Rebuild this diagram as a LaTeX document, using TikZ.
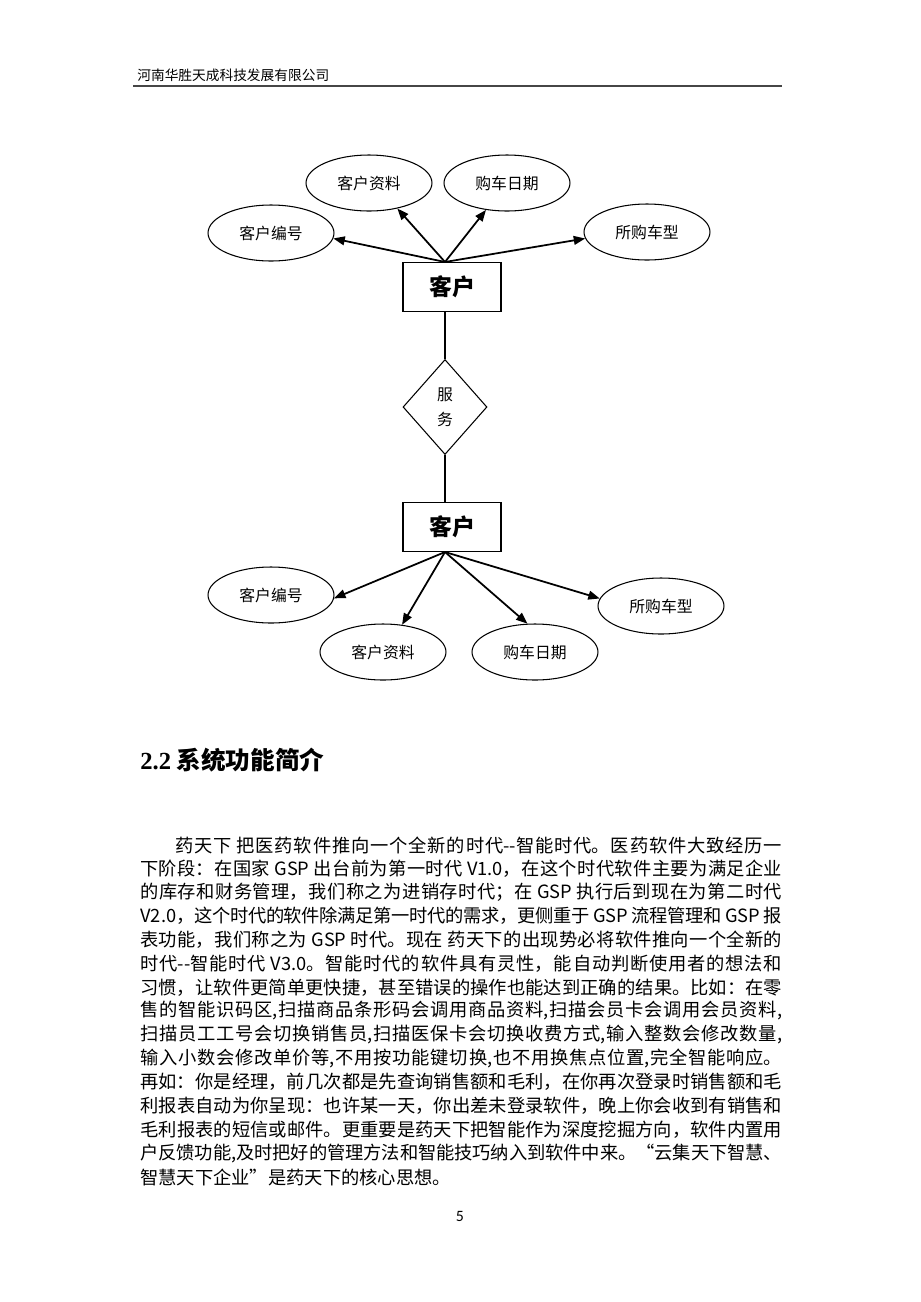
\documentclass[tikz,border=0pt]{standalone}
\usepackage{fontspec}
\setmainfont{Noto Sans CJK SC}
\newfontfamily\serifnum{Liberation Serif}
\newfontfamily\pagefont{Carlito}
\usetikzlibrary{shapes.geometric}
\usetikzlibrary{arrows.meta}
\usepackage{color}
\definecolor{hdgray}{RGB}{70,70,70}
\XeTeXlinebreaklocale "zh"
\XeTeXlinebreakskip=0pt plus 1.5pt minus 0.4pt
\newlength\linew
\setlength\linew{12.84cm}
\newcommand\bodyline[2][\linew]{\parbox{#1}{\parfillskip=0pt\tolerance=10000
  \XeTeXlinebreakpenalty=10000 #2}}

\begin{document}
\begin{tikzpicture}[x=0.02cm, y=-0.02cm,
  attr/.style={ellipse, draw, line width=0.6pt, minimum width=2.52cm,
    minimum height=1.12cm, inner sep=0pt, font=\fontsize{9}{11}\selectfont},
  entity/.style={rectangle, draw, line width=0.6pt, minimum width=1.96cm,
    minimum height=0.98cm, font=\fontsize{13}{15}\selectfont\bfseries},
  rel/.style={diamond, draw, line width=0.6pt, minimum width=1.68cm,
    minimum height=1.9cm, inner sep=0pt, align=center,
    font=\fontsize{9}{14}\selectfont},
  link/.style={line width=1pt, -{Triangle[length=6.5pt,width=5pt]}},
  body/.style={anchor=west, inner sep=0pt, font=\fontsize{10.4}{12}\selectfont}]
  \fill[white] (0,0) rectangle (920,1302);
  \useasboundingbox (0,0) rectangle (920,1302);

  % page head
  \node[anchor=west, inner sep=0pt, font=\fontsize{7.8}{9}\selectfont] (head) %
    at (137,75) {河南华胜天成科技发展有限公司};
  \draw[hdgray, line width=1.2pt] (133,86) -- (782,86);

  % upper entity
  \node[entity] (custA) at (452,287) {客户};
  \node[attr] (noA) at (271,233) {客户编号};
  \node[attr] (infoA) at (369,183) {客户资料};
  \node[attr] (dateA) at (507,183) {购车日期};
  \node[attr] (typeA) at (647,232) {所购车型};

  \node[rel] (serve) at (445,407) {服\\务};

  % lower entity
  \node[entity] (custB) at (452,527) {客户};
  \node[attr] (noB) at (271,595) {客户编号};
  \node[attr] (infoB) at (383,652) {客户资料};
  \node[attr] (dateB) at (535,652) {购车日期};
  \node[attr] (typeB) at (661,606) {所购车型};

  \coordinate (hubA) at (custA.north -| serve.north);
  \coordinate (hubB) at (custB.south -| serve.south);
  \draw[link] (hubA) -- (noA.-5);
  \draw[link] (hubA) -- (infoA.-42);
  \draw[link] (hubA) -- (dateA.-128);
  \draw[link] (hubA) -- (typeA.-174);
  \draw[line width=0.6pt] (custA.south -| serve.north) -- (serve.north);
  \draw[line width=0.6pt] (serve.south) -- (custB.north -| serve.south);
  \draw[link] (hubB) -- (noB.-3);
  \draw[link] (hubB) -- (infoB.55);
  \draw[link] (hubB) -- (dateB.105);
  \draw[link] (hubB) -- (typeB.173);

  % section
  \node[anchor=west, inner sep=0pt, font=\fontsize{14}{16}\selectfont\bfseries] %
    (sec) at (140,760) {{\serifnum 2.2} 系统功能简介};

  \node[body] (l1) at (175,845) {\bodyline[12.14cm]{药天下 把医药软件推向一个全新的时代-{}-智能时代。医药软件大致经历一}};
  \node[body] (l2) at (140,868.7) {\bodyline{下阶段：在国家 GSP 出台前为第一时代 V1.0，在这个时代软件主要为满足企业}};
  \node[body] (l3) at (140,892.4) {\bodyline{的库存和财务管理，我们称之为进销存时代；在 GSP 执行后到现在为第二时代}};
  \node[body] (l4) at (140,916.2) {\bodyline{V2.0，这个时代的软件除满足第一时代的需求，更侧重于 GSP 流程管理和 GSP 报}};
  \node[body] (l5) at (140,939.9) {\bodyline{表功能，我们称之为 GSP 时代。现在 药天下的出现势必将软件推向一个全新的}};
  \node[body] (l6) at (140,963.6) {\bodyline{时代-{}-智能时代 V3.0。智能时代的软件具有灵性，能自动判断使用者的想法和}};
  \node[body] (l7) at (140,987.3) {\bodyline{习惯，让软件更简单更快捷，甚至错误的操作也能达到正确的结果。比如：在零}};
  \node[body] (l8) at (140,1011) {\bodyline{售的智能识码区,扫描商品条形码会调用商品资料,扫描会员卡会调用会员资料,}};
  \node[body] (l9) at (140,1034.8) {\bodyline{扫描员工工号会切换销售员,扫描医保卡会切换收费方式,输入整数会修改数量,}};
  \node[body] (l10) at (140,1058.5) {\bodyline{输入小数会修改单价等,不用按功能键切换,也不用换焦点位置,完全智能响应。}};
  \node[body] (l11) at (140,1082.2) {\bodyline{再如：你是经理，前几次都是先查询销售额和毛利，在你再次登录时销售额和毛}};
  \node[body] (l12) at (140,1105.9) {\bodyline{利报表自动为你呈现：也许某一天，你出差未登录软件，晚上你会收到有销售和}};
  \node[body] (l13) at (140,1129.6) {\bodyline{毛利报表的短信或邮件。更重要是药天下把智能作为深度挖掘方向，软件内置用}};
  \node[body] (l14) at (140,1153.4) {\bodyline{户反馈功能,及时把好的管理方法和智能技巧纳入到软件中来。“云集天下智慧、}};
  \node[body] (l15) at (140,1177.1) {智慧天下企业”是药天下的核心思想。};

  \node[font=\pagefont\fontsize{9}{10}\selectfont] (pnum) at (460,1216) {5};
\end{tikzpicture}
\end{document}
